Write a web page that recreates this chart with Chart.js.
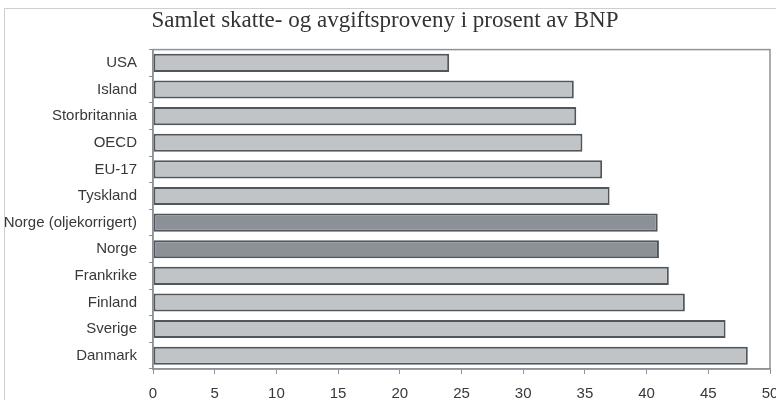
<!DOCTYPE html>
<html>
<head>
<meta charset="utf-8">
<script src="https://cdn.jsdelivr.net/npm/chart.js@4.4.1/dist/chart.umd.min.js"></script>
<style>
  body { margin: 0; background: #fff; }
  canvas { display: block; }
</style>
</head>
<body>
<canvas id="skatt-chart" width="776" height="400"></canvas>
<script>
  const countries = ['USA', 'Island', 'Storbritannia', 'OECD', 'EU-17', 'Tyskland',
    'Norge (oljekorrigert)', 'Norge', 'Frankrike', 'Finland', 'Sverige', 'Danmark'];
  const shareOfGdp = [24.0, 34.1, 34.3, 34.8, 36.4, 37.0, 40.9, 41.0, 41.8, 43.1, 46.4, 48.2];
  const xTicks = [0, 5, 10, 15, 20, 25, 30, 35, 40, 45, 50];

  const lightFill = '#c1c4c7';
  const darkFill = '#8b9196';

  // Norway bars are drawn darker
  const barColors = countries.map(c => c.startsWith('Norge') ? darkFill : lightFill);

  // Light frame around the whole picture and the box round the plot area
  const framePlugin = {
    id: 'frame',
    beforeDraw(chart) {
      const ctx = chart.ctx;
      ctx.save();
      ctx.fillStyle = '#fff';
      ctx.fillRect(0, 0, chart.width, chart.height);
      ctx.strokeStyle = '#cfcfcf';
      ctx.lineWidth = 1;
      ctx.strokeRect(4.5, 8.5, chart.width + 20, chart.height + 20);
      ctx.restore();
    },
    afterDraw(chart) {
      const a = chart.chartArea;
      const ctx = chart.ctx;
      ctx.save();
      ctx.strokeStyle = '#8e9398';
      ctx.lineWidth = 1.5;
      ctx.strokeRect(a.left, a.top, a.right - a.left, a.bottom - a.top);
      ctx.restore();
    }
  };

  const ctx = document.getElementById('skatt-chart').getContext('2d');
  new Chart(ctx, {
    type: 'bar',
    data: {
      labels: countries,
      datasets: [{
        data: shareOfGdp,
        backgroundColor: barColors,
        borderColor: '#50575c',
        borderWidth: 2,
        borderSkipped: false,
        barPercentage: 0.68,
        categoryPercentage: 1
      }]
    },
    options: {
      indexAxis: 'y',
      responsive: false,
      animation: false,
      devicePixelRatio: 1,
      layout: { padding: { left: 0, right: 6, top: 0, bottom: 0 } },
      scales: {
        x: {
          min: 0,
          max: 50,
          afterBuildTicks: axis => { axis.ticks = xTicks.map(v => ({ value: v })); },
          // let the last label run off the edge like in the original
          afterFit: axis => { axis.height = 31; axis.paddingRight = 0; axis.paddingLeft = 0; },
          grid: { drawOnChartArea: false, tickLength: 5, color: '#8e9398' },
          border: { color: '#8e9398', width: 1.5 },
          ticks: { color: '#383838', padding: 11, font: { family: 'Liberation Sans, Arial', size: 15 } }
        },
        y: {
          afterFit: axis => { axis.width = 153; },
          grid: { drawOnChartArea: false, tickLength: 4, color: '#8e9398', offset: true },
          border: { color: '#8e9398', width: 1.5 },
          ticks: { color: '#383838', padding: 12, font: { family: 'Liberation Sans, Arial', size: 15 } }
        }
      },
      plugins: {
        legend: { display: false },
        tooltip: { enabled: false },
        title: {
          display: true,
          text: 'Samlet skatte- og avgiftsproveny i prosent av BNP',
          color: '#333',
          font: { family: 'Liberation Serif, Times New Roman', size: 23, weight: 'normal' },
          padding: { top: 7, bottom: 15 }
        }
      }
    },
    plugins: [framePlugin]
  });
</script>
</body>
</html>
